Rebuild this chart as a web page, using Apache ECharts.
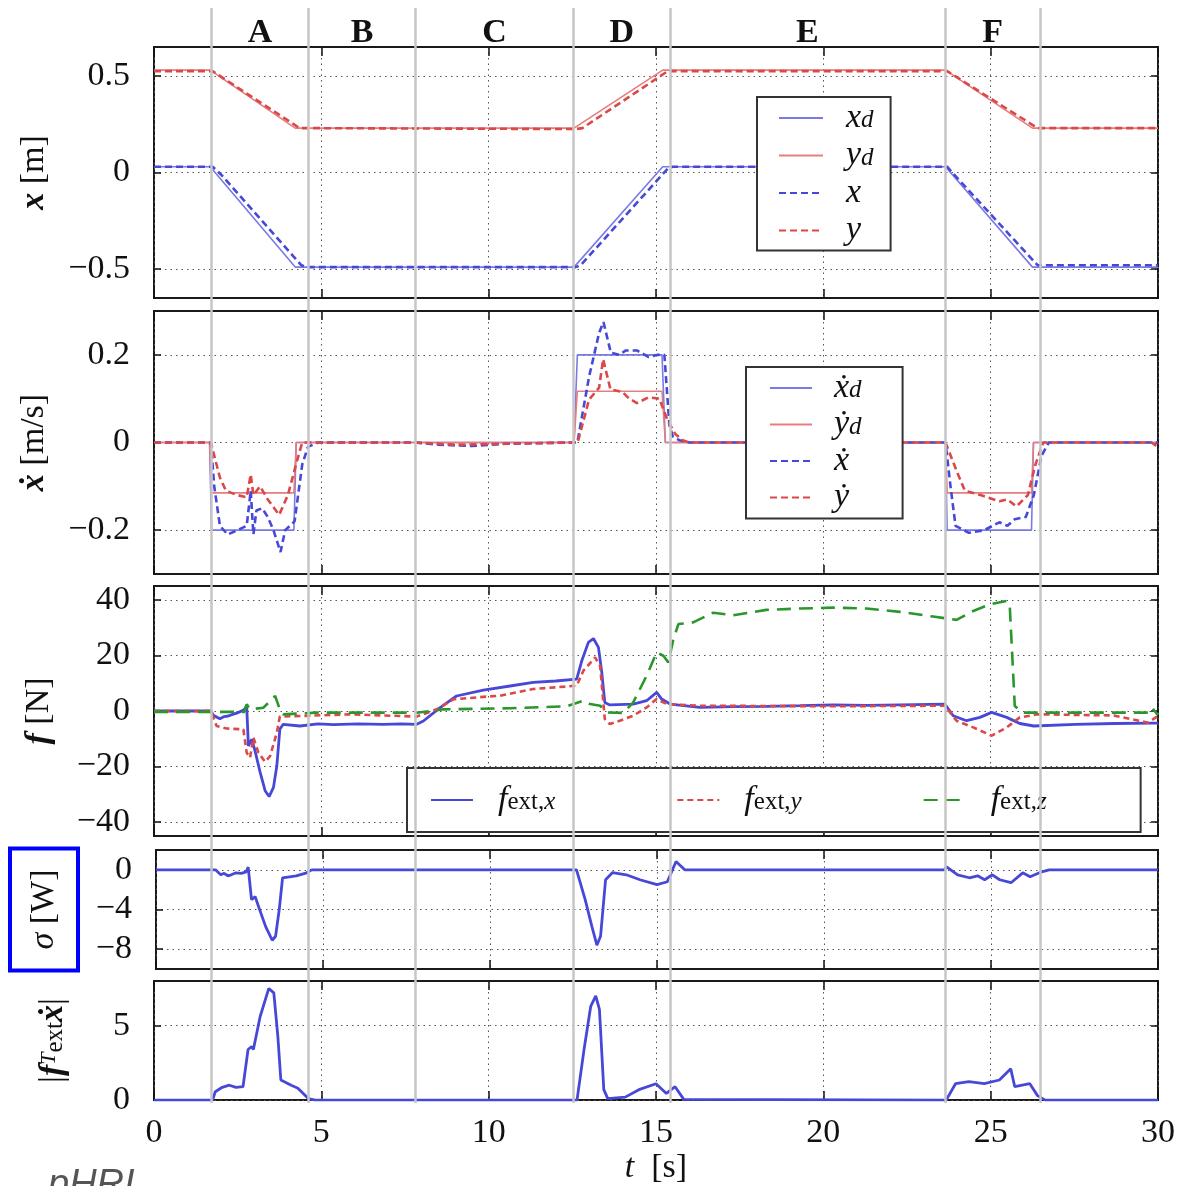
<!DOCTYPE html>
<html>
<head>
<meta charset="utf-8">
<script src="https://cdn.jsdelivr.net/npm/echarts@6/dist/echarts.min.js"></script>
<style>
  html, body { margin: 0; padding: 0; background: #fff; }
  #chart { width: 1178px; height: 1186px; }
</style>
</head>
<body>
<div id="chart"></div>
<script>
// phases of the experiment
const phaseNames = ['A', 'B', 'C', 'D', 'E', 'F'];
const phaseBounds = [1.71, 4.62, 7.82, 12.53, 15.42, 23.63, 26.49];

// tick labels
const yTicksPos = [-0.5, 0, 0.5];
const yTicksVel = [-0.2, 0, 0.2];
const yTicksForce = [-40, -20, 0, 20, 40];
const yTicksSigma = [-8, -4, 0];
const yTicksPower = [0, 5];

// position [m]
const xdData = [[0, 0.03], [1.68, 0.03], [4.22, -0.49], [12.55, -0.49], [15.2, 0.03], [23.65, 0.03], [26.25, -0.49], [30, -0.49]];
const ydData = [[0, 0.53], [1.68, 0.53], [4.22, 0.23], [12.55, 0.23], [15.2, 0.53], [23.65, 0.53], [26.25, 0.23], [30, 0.23]];
const xData = [[0, 0.03], [1.75, 0.03], [2.0, -0.01], [4.4, -0.48], [4.6, -0.49], [12.6, -0.49], [12.75, -0.48], [15.35, 0.02], [15.5, 0.03], [23.7, 0.03], [23.85, 0.0], [26.4, -0.48], [30, -0.48]];
const yData = [[0, 0.525], [1.75, 0.525], [4.35, 0.23], [12.6, 0.225], [12.8, 0.23], [15.35, 0.525], [23.7, 0.525], [26.4, 0.23], [30, 0.23]];

// velocity [m/s]
const xdotdData = [[0, 0], [1.66, 0], [1.72, -0.2], [4.18, -0.2], [4.25, 0], [12.55, 0], [12.65, 0.2], [15.18, 0.2], [15.28, 0], [23.65, 0], [23.7, -0.2], [26.22, -0.2], [26.28, 0], [30, 0]];
const ydotdData = [[0, 0], [1.66, 0], [1.72, -0.115], [4.18, -0.115], [4.25, 0], [12.55, 0], [12.65, 0.117], [15.18, 0.117], [15.28, 0], [23.65, 0], [23.7, -0.115], [26.22, -0.115], [26.28, 0], [30, 0]];
const xdotData = [[0, 0], [1.7, 0], [1.8, -0.1], [1.97, -0.19], [2.2, -0.21], [2.49, -0.2], [2.77, -0.19], [2.89, -0.11], [2.97, -0.21], [3.06, -0.155], [3.23, -0.15], [3.4, -0.17], [3.57, -0.2], [3.78, -0.25], [3.92, -0.2], [4.2, -0.18], [4.43, -0.05], [4.6, -0.01], [4.9, 0],
  [7.8, 0], [8.5, -0.005], [9.5, -0.008], [10.5, -0.003], [12.5, 0],
  [12.65, 0], [13.0, 0.15], [13.3, 0.25], [13.43, 0.275], [13.65, 0.205], [13.9, 0.2], [14.1, 0.21], [14.43, 0.21], [14.78, 0.195], [15.05, 0.2], [15.25, 0.2], [15.4, 0.04], [15.5, 0.014], [15.7, 0.005], [16, 0],
  [23.65, 0], [23.8, -0.1], [23.95, -0.19], [24.35, -0.206], [24.81, -0.2], [25.26, -0.182], [25.5, -0.19], [25.72, -0.175], [26.05, -0.17], [26.29, -0.12], [26.52, -0.03], [26.74, 0], [30, 0]];
const ydotData = [[0, 0], [1.7, 0], [1.8, -0.03], [1.97, -0.08], [2.15, -0.11], [2.49, -0.12], [2.77, -0.125], [2.89, -0.073], [2.97, -0.12], [3.17, -0.1], [3.4, -0.13], [3.74, -0.165], [4.0, -0.12], [4.28, -0.04], [4.43, 0],
  [7.8, 0], [9, -0.005], [12.5, 0],
  [12.66, 0], [13.0, 0.098], [13.3, 0.125], [13.42, 0.19], [13.64, 0.121], [14.0, 0.115], [14.2, 0.1], [14.43, 0.09], [14.78, 0.103], [15.1, 0.1], [15.35, 0.05], [15.57, 0.02], [15.8, 0.005], [16, 0],
  [23.65, 0], [24.01, -0.07], [24.23, -0.11], [24.7, -0.12], [25.26, -0.134], [25.5, -0.13], [25.77, -0.146], [26.11, -0.12], [26.34, -0.05], [26.57, 0], [29.8, 0], [30, -0.01]];

// external force [N]
const fxData = [[0, 0], [1.7, 0], [1.77, -1.5], [1.97, -2.8], [2.1, -2.0], [2.22, -1.8], [2.35, -1.2], [2.47, -0.8], [2.69, 0.4], [2.77, 1.8], [2.82, -12.6], [2.92, -10.2], [3.02, -14.4], [3.17, -22], [3.32, -28.7], [3.44, -30.8], [3.57, -27.5], [3.67, -19.8], [3.76, -6.6], [3.86, -4.8],
  [4.36, -5.4], [4.9, -4.6], [5.36, -4.9], [6.1, -4.6], [6.85, -4.8], [7.4, -4.6], [7.85, -4.8], [8.05, -3.6], [8.55, 1.2], [9.04, 5.4], [9.84, 7.5], [10.64, 9.0], [11.33, 10.3], [12.0, 10.8], [12.63, 11.5],
  [12.78, 18], [12.98, 24.7], [13.13, 26.1], [13.28, 22.9], [13.38, 13.9], [13.47, 3.1], [13.62, 2.2], [14.32, 2.5], [14.72, 3.7], [15.02, 6.7], [15.17, 4.3], [15.42, 2.5], [16.31, 1.3], [17.3, 1.6], [18.3, 1.7], [19.3, 1.9], [20.3, 2.2], [21.3, 2.0], [22.29, 2.2], [23.63, 2.5],
  [23.88, -1.7], [24.28, -3.5], [24.68, -2.3], [25.03, -0.5], [25.48, -2.3], [25.87, -4.5], [26.29, -5.4], [27.54, -4.8], [28.7, -4.5], [29.82, -4.4], [30, -4.4]];
const fyData = [[0, 0], [1.7, 0], [1.87, -5.4], [2.17, -6.3], [2.67, -6.6], [2.77, -15], [2.87, -16.8], [2.97, -9.6], [3.12, -15], [3.32, -18.3], [3.47, -16.2], [3.67, -7.8], [3.76, -2],
  [4.36, -1.8], [5.86, -1.2], [7.85, -2], [8.45, 0.6], [8.94, 4.2], [9.84, 5.1], [10.34, 5.5], [11.33, 7.9], [12.63, 9.1],
  [12.83, 14.5], [13.18, 19.3], [13.33, 16.3], [13.47, -2.9], [13.62, -4.7], [13.92, -3.5], [14.32, -1.7], [14.72, 1.3], [15.02, 4.3], [15.32, 2.5], [16.31, 1.9], [20.3, 1.7], [23.63, 1.9],
  [23.98, -3.5], [24.48, -5.9], [25.03, -8.9], [25.48, -5.9], [25.87, -2.3], [26.4, -1.2], [28.68, -1.6], [29.7, -4.2], [30, -1.8]];
const fzData = [[0, -0.3], [2.7, -0.3], [2.77, 2.4], [2.87, 0.6], [3.27, 1.2], [3.62, 5.4], [3.76, 0.6], [3.86, -1.2], [4.86, -0.6], [7.85, -0.6], [8.65, 0.6], [10.64, 1.0], [12.33, 1.7],
  [12.83, 3.7], [13.03, 2.5], [13.33, 1.9], [13.53, -0.5], [14.02, -0.7], [14.32, 3.1], [14.72, 12.7], [15.02, 21.1], [15.22, 19.9], [15.37, 17.5], [15.52, 25.9], [15.67, 31.3], [16.11, 31.9],
  [16.71, 35.4], [17.31, 34.5], [18.3, 36.4], [19.3, 36.9], [20.3, 37.2], [21.29, 36.9], [22.29, 35.7], [23.28, 34.0], [23.98, 32.8], [24.48, 36.0], [24.98, 38.4], [25.48, 39.6], [25.57, 38],
  [25.72, 1.8], [25.95, -0.6], [29.7, -0.6], [29.82, 1.2], [30, -1.5]];

// sigma [W]
const sigmaData = [[0, 0], [1.78, 0], [1.94, -0.5], [2.04, -0.35], [2.15, -0.6], [2.25, -0.5], [2.4, -0.3], [2.55, -0.35], [2.7, -0.2], [2.76, 0.27], [2.86, -3.0], [2.97, -2.7], [3.07, -3.7], [3.28, -5.7], [3.48, -7.1], [3.58, -6.7], [3.69, -4.0], [3.79, -0.8], [4.2, -0.6], [4.51, -0.3], [4.66, 0],
  [12.59, 0], [12.85, -3.0], [13.05, -5.7], [13.2, -7.6], [13.31, -6.7], [13.46, -1.0], [13.67, -0.27], [14.08, -0.5], [14.49, -1.0], [15.0, -1.5], [15.31, -1.2], [15.57, 0.84], [15.83, 0],
  [23.6, 0], [23.67, 0.3], [24.0, -0.5], [24.35, -0.8], [24.6, -0.6], [24.81, -1.0], [25.04, -0.5], [25.26, -1.0], [25.6, -1.3], [25.95, -0.3], [26.17, -0.7], [26.52, -0.2], [26.74, 0], [30, 0]];

// |f_ext^T xdot|
const powerData = [[0, 0], [1.75, 0], [1.83, 0.56], [2.04, 0.86], [2.25, 1.0], [2.45, 0.85], [2.66, 0.9], [2.81, 3.4], [2.92, 3.6], [2.97, 3.4], [3.17, 5.6], [3.43, 7.5], [3.58, 7.2], [3.7, 4.3], [3.79, 1.35], [4.1, 1.0], [4.3, 0.8], [4.61, 0.1], [4.82, 0],
  [12.64, 0], [12.85, 3.4], [13.05, 6.3], [13.2, 7.0], [13.31, 6.1], [13.44, 0.7], [13.56, 0.1], [14.08, 0.2], [14.49, 0.7], [15.0, 1.1], [15.31, 0.45], [15.57, 0.9], [15.83, 0.05],
  [23.67, 0], [23.95, 1.1], [24.35, 1.24], [24.81, 1.1], [25.26, 1.35], [25.6, 2.1], [25.72, 0.9], [26.17, 1.1], [26.4, 0.3], [26.63, 0], [30, 0]];

const SERIF = "'Liberation Serif', 'DejaVu Serif', serif";
const BLUE = '#4848d8', BLUE_L = '#7a7ae6', RED = '#dc4848', RED_L = '#e57e7e', GREEN = '#2b962b';
const INK = '#111';

const rich = {
  i: { fontFamily: SERIF, fontStyle: 'italic', fontSize: 34, lineHeight: 30 },
  bi: { fontFamily: SERIF, fontStyle: 'italic', fontWeight: 'bold', fontSize: 34, lineHeight: 30 },
  r: { fontFamily: SERIF, fontSize: 34, lineHeight: 30 },
  sub: { fontFamily: SERIF, fontStyle: 'italic', fontSize: 25, lineHeight: 16, verticalAlign: 'bottom' },
  subr: { fontFamily: SERIF, fontSize: 25, lineHeight: 16, verticalAlign: 'bottom' },
  sup: { fontFamily: SERIF, fontStyle: 'italic', fontSize: 22, lineHeight: 18, verticalAlign: 'top' }
};

const legendText = {
  x_d: '{i|x}{sub|d}', y_d: '{i|y}{sub|d}', x: '{i|x}', y: '{i|y}',
  xdot_d: '{i|ẋ}{sub|d}', ydot_d: '{i|ẏ}{sub|d}', xdot: '{i|ẋ}', ydot: '{i|ẏ}',
  fx: '{i|f}{subr|ext,}{sub|x}', fy: '{i|f}{subr|ext,}{sub|y}', fz: '{i|f}{subr|ext,}{sub|z}'
};

const layout = [
  { top: 47, height: 251, min: -0.65, max: 0.65, ticks: yTicksPos, name: '{bi|x} [m]', gap: 105 },
  { top: 311, height: 263, min: -0.3, max: 0.3, ticks: yTicksVel, name: '{bi|ẋ} [m/s]', gap: 105 },
  { top: 586, height: 250, min: -45, max: 45, ticks: yTicksForce, name: '{bi|f} [N]', gap: 100 },
  { top: 850, height: 119, min: -10, max: 2, ticks: yTicksSigma, name: '{i|σ} [W]', gap: 78, boxed: true },
  { top: 981, height: 120, min: 0, max: 8, ticks: yTicksPower, name: '|{bi|f}{sup|T}{subr|ext}{bi|ẋ}|', gap: 86 }
];

const fmtMinus = v => (v < 0 ? '\u2212' + Math.abs(v) : String(v));
const tickStyle = { color: INK, width: 1.5 };
const gridDots = { color: '#555', type: [1.5, 4], width: 1 };

const grid = [], xAxis = [], yAxis = [];
layout.forEach((p, i) => {
  grid.push({ left: 154, width: 1004, top: p.top, height: p.height, show: true, borderColor: '#1a1a1a', borderWidth: 2 });
  xAxis.push({
    type: 'value', gridIndex: i, min: 0, max: 30, interval: 5,
    axisLine: { show: false, onZero: false },
    axisTick: { inside: true, length: 9, lineStyle: tickStyle },
    axisLabel: { show: i === 4, margin: 16, fontFamily: SERIF, fontSize: 34, color: INK },
    splitLine: { show: true, lineStyle: gridDots },
    name: i === 4 ? '{i|t}  [s]' : '', nameLocation: 'middle', nameGap: 46,
    nameTextStyle: { fontFamily: SERIF, fontSize: 34, color: INK, rich: rich }
  });
  xAxis.push({
    type: 'value', gridIndex: i, position: 'top', min: 0, max: 30, interval: 5,
    axisLine: { show: false, onZero: false }, axisLabel: { show: false }, splitLine: { show: false },
    axisTick: { inside: true, length: 9, lineStyle: tickStyle }
  });
  const nameStyle = { fontFamily: SERIF, fontSize: 34, color: INK, lineHeight: 30, rich: rich };
  if (p.boxed) Object.assign(nameStyle, { borderColor: '#0000ff', borderWidth: 4, padding: [19, 21, 19, 21] });
  yAxis.push({
    type: 'value', gridIndex: i, min: p.min, max: p.max,
    axisLine: { show: false, onZero: false },
    axisTick: { inside: true, length: 7, lineStyle: tickStyle, customValues: p.ticks },
    axisLabel: { customValues: p.ticks, margin: 24, formatter: fmtMinus, fontFamily: SERIF, fontSize: 34, color: INK },
    splitLine: { show: true, lineStyle: gridDots },
    name: p.name, nameLocation: 'middle', nameGap: p.gap, nameTextStyle: nameStyle
  });
  yAxis.push({
    type: 'value', gridIndex: i, position: 'right', min: p.min, max: p.max,
    axisLine: { show: false, onZero: false }, axisLabel: { show: false }, splitLine: { show: false },
    axisTick: { inside: true, length: 7, lineStyle: tickStyle, customValues: p.ticks }
  });
});
// overlay for the phase separators and labels
grid.push({ left: 154, width: 1004, top: 8, height: 1095, show: false });
xAxis.push({ type: 'value', gridIndex: 5, min: 0, max: 30, show: false });
yAxis.push({ type: 'value', gridIndex: 5, min: 0, max: 1, show: false });

function line(name, data, panel, color, width, dash) {
  return {
    type: 'line', name: name, data: data, xAxisIndex: panel * 2, yAxisIndex: panel * 2,
    symbol: 'none', z: 2, silent: true,
    lineStyle: { color: color, width: width, type: dash || 'solid' },
    itemStyle: { color: color }
  };
}

const series = [
  line('x_d', xdData, 0, BLUE_L, 1.6),
  line('y_d', ydData, 0, RED_L, 1.6),
  line('x', xData, 0, BLUE, 2.6, [7, 4]),
  line('y', yData, 0, RED, 2.6, [7, 4]),
  line('xdot_d', xdotdData, 1, BLUE_L, 1.6),
  line('ydot_d', ydotdData, 1, RED_L, 1.6),
  line('xdot', xdotData, 1, BLUE, 2.6, [7, 4]),
  line('ydot', ydotData, 1, RED, 2.6, [7, 4]),
  line('fx', fxData, 2, BLUE, 2.8),
  line('fy', fyData, 2, RED, 2.6, [6, 4]),
  line('fz', fzData, 2, GREEN, 2.6, [14, 8]),
  line('sigma', sigmaData, 3, BLUE, 2.8),
  line('power', powerData, 4, BLUE, 2.8),
  {
    type: 'line', name: 'phases', data: [], xAxisIndex: 10, yAxisIndex: 10, silent: true, z: 3,
    markLine: {
      silent: true, symbol: ['none', 'none'], label: { show: false },
      lineStyle: { color: '#c6c6c6', width: 2.5, type: 'solid' },
      data: phaseBounds.map(b => ({ xAxis: b }))
    },
    markArea: {
      silent: true, itemStyle: { color: 'rgba(0,0,0,0)' },
      label: { show: true, position: 'insideTop', distance: 8, color: INK, fontFamily: SERIF, fontSize: 34, fontWeight: 'bold' },
      data: phaseNames.map((n, k) => [{ name: n, xAxis: phaseBounds[k] }, { xAxis: phaseBounds[k + 1] }])
    }
  }
];

const legendBase = {
  selectedMode: false, itemHeight: 14, backgroundColor: '#fff', borderColor: '#333', borderWidth: 2,
  itemStyle: { opacity: 0 },
  formatter: n => legendText[n],
  textStyle: { fontFamily: SERIF, fontSize: 34, color: INK, rich: rich }
};

const option = {
  animation: false,
  backgroundColor: '#fff',
  grid: grid, xAxis: xAxis, yAxis: yAxis, series: series,
  legend: [
    Object.assign({}, legendBase, {
      data: ['x_d', 'y_d', 'x', 'y'], orient: 'vertical', left: 757, top: 97, z: 6,
      itemWidth: 44, itemGap: 3.5, padding: [4, 17, 3, 21],
      textStyle: Object.assign({}, legendBase.textStyle, { padding: [0, 0, 0, 18] })
    }),
    Object.assign({}, legendBase, {
      data: ['xdot_d', 'ydot_d', 'xdot', 'ydot'], orient: 'vertical', left: 746, top: 367, z: 6,
      itemWidth: 42, itemGap: 2.5, padding: [4, 41, 4, 23],
      textStyle: Object.assign({}, legendBase.textStyle, { padding: [0, 0, 0, 17] })
    }),
    Object.assign({}, legendBase, {
      data: ['fx', 'fy', 'fz'], orient: 'horizontal', left: 407, top: 768, z: 1,
      itemWidth: 42, itemGap: 121, padding: [15, 94, 15, 23],
      textStyle: Object.assign({}, legendBase.textStyle, { padding: [0, 0, 0, 20] })
    })
  ],
  graphic: [{
    type: 'text', left: 48, top: 1166, silent: true,
    style: { text: 'pHRI', font: "italic 38px 'Liberation Sans', sans-serif", fill: '#555' }
  }]
};

const chart = echarts.init(document.getElementById('chart'));
chart.setOption(option);
</script>
</body>
</html>
